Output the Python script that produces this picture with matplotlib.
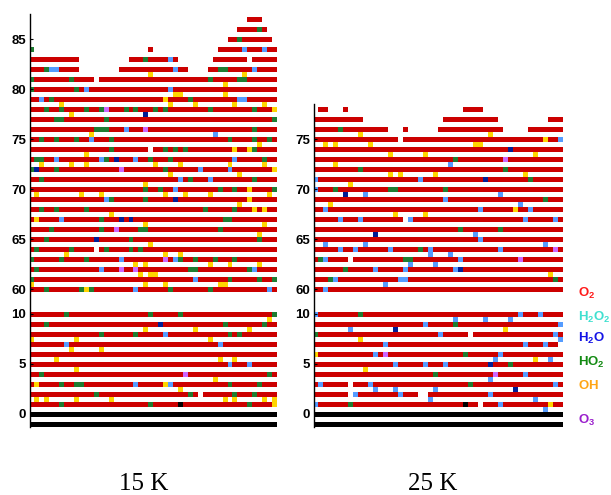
import matplotlib
matplotlib.use("Agg")
import matplotlib.pyplot as plt

plt.rcParams.update(
    {
        "font.family": "Liberation Sans",
        "mathtext.fontset": "custom",
        "mathtext.rm": "Liberation Sans:bold",
        "mathtext.bf": "Liberation Sans:bold",
        "mathtext.it": "Liberation Sans:bold",
    }
)

# cell colours (R = O2 layer, coloured cells = other species, K = substrate)
cell_colours = {
    "R": "#cc0000",
    "G": "#1e7d32",
    "B": "#559cff",
    "Y": "#ffd500",
    "N": "#001e96",
    "V": "#cc66ff",
    "K": "#000000",
}

# %%
# layer contents, run-length coded over 50 sites ("." = empty site)
left_rows = {
    87: "44. 3R 3.",
    86: "42. 4R G R 2.",
    85: "40. 2R G 6R .",
    84: "G 23. R 13. 5R B 3R B 2R",
    83: "10R 10. 3R G 4R B R 7. 7R . 5R",
    82: "3R G 2B 4R 8. 11R B 2R 4. 2R 2G 5R B 4R",
    81: "G 7R G 4R . 22R G 5R 2G 6R",
    80: "G 8R G R B 16R B 21R",
    79: "2R B R G 22R Y 4R G 9R 2B 6R",
    78: "3R G 2R G 4R G 2R G V 3R G R G 3R G R G 8R G 8R G 3R Y",
    77: "5R 2G 8R G 33R G",
    76: "13R 3G 3R B 3R V 21R G 4R",
    75: "2R G 2R G 3R G 2R B 3R G 23R G 4R G 2R G R",
    74: "16R G 7R . 2R G R G R G 9R Y 2R Y G 4R",
    73: "R 2G 2R B 8R B G R N 3R B 2R G 3R G 12R B 5R G 2R",
    72: "G N 3R G 12R V 8R G 6R B 5R B 8R Y",
    71: "2R G 27R B R G 3R B 8R G 4R",
    70: "23R G 2R G 2R B 8R G 2R G 2R Y 4R G",
    69: "15R B G 6R G 5R N 14R Y 5R",
    68: "2R G 2R G 5R G 23R G 5R G 3R Y R Y 2R",
    67: "R Y 4R B 7R G 3R N R N 18R 2G 9R",
    66: "4R G 9R G 2R V 4R 2G 14R G 11R",
    65: "3R G 9R N 6R G 25R G 3R",
    64: "R G 6R G 4R . R G 4R G R G 27R",
    63: "G 5R G 4R G 6R B 8R V R B G 2R G 3R G 3R G 8R",
    62: "R G 12R B 3R V 2R V 10R 2G 10R G B 4R",
    61: "G 32R B 6R G 5R G 2R G",
    60: "3R G 6R G Y G 8R B 6R G 7R G 11R B R",
    10: "7R G 16R G 5R G 18R G",
    9: "3R G 22R N 12R G 7R G 2R",
    8: "14R G 6R G 5R B 12R G R G 7R",
    7: "7R B 30R B 11R",
    6: "50R",
    5: "40R B 3R B 5R",
    4: "2R G 28R V 16R G R",
    3: "R Y 4R G 2R 2G 10R B 5R Y B 11R G 5R G 3R",
    2: "13R G 18R G R . 6R G 3R G 4R",
    1: "6R G 17R G 5R K 13R G 4R Y",
    0: "50K",
    -1: "50K",
}

# interstitial sites half a layer above the given layer (colour + site index)
left_half = {
    81: "Y24 Y43",
    80: "Y39",
    79: "Y29 Y30 Y39",
    78: "Y6 Y28 Y33 Y41 Y47",
    77: "Y8 N23",
    75: "Y12 B37",
    74: "Y46",
    73: "Y11",
    72: "Y2 Y8 Y11 Y25 Y30 Y40 Y47",
    71: "Y28 Y42",
    70: "Y23",
    69: "Y1 Y10 Y14 Y27 Y31 Y36 Y48",
    68: "Y42",
    67: "Y16",
    66: "Y23 Y47",
    65: "Y46",
    64: "Y24",
    63: "Y7 Y27 Y30",
    62: "Y21 Y23 Y36 Y40 Y46",
    61: "Y22 Y24 Y25",
    60: "Y0 Y23 Y27 Y38 Y39",
    9: "Y48",
    8: "Y23 Y33 Y44",
    7: "Y0 Y9 Y36",
    6: "Y8 Y14",
    5: "Y5 Y38 Y41",
    4: "Y9",
    3: "Y37",
    2: "Y30",
    1: "Y1 Y3 Y9 Y16 Y39 Y41 Y47 Y49",
}

right_rows = {
    78: ". 2R 3. R 23. 4R 16.",
    77: "10R 16. 11R 10. 3R",
    76: "5R G 9R 3. R 6. 13R 5. 7R",
    75: "17R . 28R Y 2R B",
    74: "39R N 10R",
    73: "28R G 9R V 11R",
    72: "9R G 28R G 11R",
    71: "B 20R B 12R N 8R G 6R",
    70: "B 3R G 10R 2G 9R G 23R",
    69: "26R B 19R G 3R",
    68: "2R B 30R B 6R Y 2R B 6R",
    67: "5R B 3R B 8R . B 22R B 5R B R",
    66: "29R G 7R G 12R",
    65: "33R B 16R",
    64: "5R B 2R B 6R B 5R G R B 13R B 10R V R",
    63: "R G B 4R . 10R 2G 9R B 11R V 8R",
    62: "6R G 5R B 5R B 9R B N 20R",
    61: "3R G B 12R 2B 29R G R",
    60: "2R B 47R",
    10: "B 8R G 31R B 3R B 4R",
    9: "22R B 5R G 20R B",
    8: "G 24R B 5R . 16R B R",
    7: "14R B 27R B 3R B 2R .",
    6: "Y 11R B R V 15R G 6R B 12R",
    5: "16R B 5R B 3R B 8R N 3R G 10R",
    4: "24R G 11R V 5R B 7R",
    3: "R B 5R . 3R B 19R G 16R B R",
    2: "7R . B 8R B 3R 2. 12R B 14R",
    1: "B 6R G 22R K 2R . 3R B 9R Y 2R",
    0: "50K",
    -1: "50K",
}

right_half = {
    75: "Y9 Y35",
    74: "Y2 Y4 Y11 Y32 Y33",
    73: "Y15 Y22 Y44",
    72: "Y4 B27",
    71: "Y15 Y17 Y24 Y42",
    70: "Y7",
    69: "N6 B10 B37",
    68: "Y3 B41",
    67: "Y16 Y22",
    65: "N12 B32",
    64: "B2 B10 B46",
    63: "B23 B27",
    62: "B19 B24",
    61: "Y47",
    60: "B14",
    9: "B28 B34 B39",
    8: "B7 N16 Y38",
    7: "Y9 B49",
    5: "B36 Y44 B47",
    4: "Y10",
    3: "B35",
    2: "B12 B16 B24 N40",
    1: "B23 B44",
    0: "B46",
}

left_ticks = [0, 5, 10, 60, 65, 70, 75, 80, 85]
right_ticks = [0, 5, 10, 60, 65, 70, 75]
panel_titles = ["15 K", "25 K"]

legend_labels = [r"$\mathbf{O_2}$", r"$\mathbf{H_2O_2}$", r"$\mathbf{H_2O}$",
                 r"$\mathbf{HO_2}$", r"$\mathbf{OH}$", r"$\mathbf{O_3}$"]
legend_colours = ["#ff1a1a", "#40e0d0", "#1414e6", "#128a12", "#ffa514", "#9a1fcc"]


# %%
def layer_pos(layer):
    # broken axis: layers 60+ are moved down to sit just above layer 10
    return layer if layer <= 10 else layer - 60 + 12.5


def parse_runs(code):
    cells = []
    for tok in code.split():
        n = int(tok[:-1]) if len(tok) > 1 else 1
        cells += [tok[-1]] * n
    return cells


def draw_row(ax, cells, y):
    start = 0
    for i in range(1, len(cells) + 1):
        if i == len(cells) or cells[i] != cells[start]:
            c = cells[start]
            if c != ".":
                ax.broken_barh([(start, i - start)], (y - 0.25, 0.5),
                               facecolors=cell_colours[c], linewidth=0)
            start = i


def draw_panel(ax, rows, half, ticks, ytop):
    for layer, code in rows.items():
        draw_row(ax, parse_runs(code), layer_pos(layer))
    for layer, code in half.items():
        for tok in code.split():
            ax.broken_barh([(int(tok[1:]), 1)], (layer_pos(layer) + 0.25, 0.5),
                           facecolors=cell_colours[tok[0]], linewidth=0)
    ax.set_xlim(0, 50)
    ax.set_ylim(-1.25, ytop)
    for side in ["top", "right", "bottom"]:
        ax.spines[side].set_visible(False)
    ax.spines["left"].set_linewidth(1.0)
    ax.set_xticks([])
    ax.set_yticks([layer_pos(t) for t in ticks])
    ax.set_yticklabels([str(t) for t in ticks], fontweight="bold", fontsize=9.5)
    ax.tick_params(axis="y", direction="in", length=2.5, width=0.8, pad=2.5)


fig = plt.figure(figsize=(6.11, 4.95), dpi=100)
W, H = 611.0, 495.0

ax1 = fig.add_axes([29.5 / W, 68.5 / H, 247.5 / W, 412.5 / H])
draw_panel(ax1, left_rows, left_half, left_ticks, 40.0)

ax2 = fig.add_axes([313.5 / W, 68.5 / H, 249.5 / W, 322.5 / H])
draw_panel(ax2, right_rows, right_half, right_ticks, 31.0)

# panel titles
for xc, title in zip([144, 433], panel_titles):
    fig.text(xc / W, 1 - 490 / H, title, ha="center", va="baseline",
             fontsize=18, family="Liberation Serif")

# species key
for yb, label, col in zip([297, 321, 342, 366, 389, 424], legend_labels, legend_colours):
    fig.text(578 / W, 1 - yb / H, label, ha="left", va="baseline",
             fontsize=9.5, color=col)

plt.savefig("out.png", dpi=100)
